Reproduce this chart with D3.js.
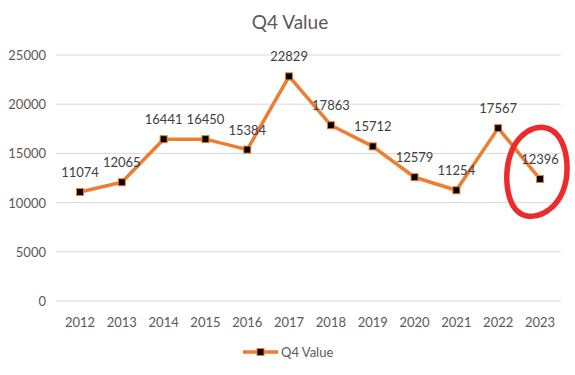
<!DOCTYPE html>
<html lang="en">
<head>
  <meta charset="UTF-8">
  <title>Q4 Value</title>
  <script src="https://d3js.org/d3.v7.min.js"></script>
  <style>
    body { margin: 0; background: #fff; }
    text { font-family: Lato, "Open Sans", sans-serif; fill: #595959; }
  </style>
</head>
<body>
  <svg width="575" height="375"></svg>

  <script>
    const years = ["2012", "2013", "2014", "2015", "2016", "2017", "2018", "2019", "2020", "2021", "2022", "2023"];
    const q4Values = [11074, 12065, 16441, 16450, 15384, 22829, 17863, 15712, 12579, 11254, 17567, 12396];
    const yTicks = [0, 5000, 10000, 15000, 20000, 25000];
    const seriesName = "Q4 Value";

    const svg = d3.select("svg");
    const orange = "#ED7D31";

    const x = d3.scalePoint().domain(years).range([80, 540]);
    const y = d3.scaleLinear().domain([0, 25000]).range([301, 55]);

    // title
    svg.append("text")
      .attr("x", 290).attr("y", 29)
      .attr("text-anchor", "middle")
      .style("font-size", "19px")
      .text("Q4 Value");

    // gridlines
    svg.selectAll("line.grid")
      .data(yTicks)
      .enter().append("line")
      .attr("class", "grid")
      .attr("x1", 56).attr("x2", 561)
      .attr("y1", d => y(d)).attr("y2", d => y(d))
      .attr("stroke", "#d9d9d9")
      .attr("stroke-width", 1);

    // y axis labels
    svg.selectAll("text.ylab")
      .data(yTicks)
      .enter().append("text")
      .attr("class", "ylab")
      .attr("x", 46).attr("y", d => y(d) + 5)
      .attr("text-anchor", "end")
      .style("font-size", "13px")
      .text(d => d);

    // x axis labels
    svg.selectAll("text.xlab")
      .data(years)
      .enter().append("text")
      .attr("class", "xlab")
      .attr("x", d => x(d)).attr("y", 327)
      .attr("text-anchor", "middle")
      .style("font-size", "13px")
      .text(d => d);

    // line
    const line = d3.line()
      .x((d, i) => x(years[i]))
      .y(d => y(d));

    svg.append("path")
      .datum(q4Values)
      .attr("d", line)
      .attr("fill", "none")
      .attr("stroke", orange)
      .attr("stroke-width", 3.5)
      .attr("stroke-linejoin", "round");

    // markers
    svg.selectAll("rect.marker")
      .data(q4Values)
      .enter().append("rect")
      .attr("class", "marker")
      .attr("x", (d, i) => x(years[i]) - 3.5)
      .attr("y", d => y(d) - 3.5)
      .attr("width", 7).attr("height", 7)
      .attr("fill", "#000")
      .attr("stroke", orange)
      .attr("stroke-width", 1);

    // data labels
    svg.selectAll("text.dlab")
      .data(q4Values)
      .enter().append("text")
      .attr("class", "dlab")
      .attr("x", (d, i) => x(years[i]))
      .attr("y", d => y(d) - 15)
      .attr("text-anchor", "middle")
      .style("font-size", "13px")
      .style("fill", "#404040")
      .text(d => d);

    // hand-drawn red circle round the last point (tilted a little)
    const cx = x("2023") - 3, cy = y(12396) - 7;
    const tilt = 0.22;
    const ring = d3.range(0, 1.08, 0.02).map(t => {
      const a = -Math.PI / 2 + t * 2 * Math.PI;
      const rx = 30 + 1.5 * Math.sin(a * 2);
      const ry = 45 - 1.5 * Math.cos(a);
      const px = rx * Math.cos(a), py = ry * Math.sin(a);
      return [cx + px * Math.cos(tilt) - py * Math.sin(tilt),
              cy + px * Math.sin(tilt) + py * Math.cos(tilt)];
    });
    svg.append("path")
      .attr("d", d3.line().curve(d3.curveCatmullRom)(ring))
      .attr("fill", "none")
      .attr("stroke", "#ee2b2b")
      .attr("stroke-width", 5.5)
      .attr("stroke-linecap", "round");

    // legend
    const lg = svg.append("g").attr("transform", "translate(243,352)");
    lg.append("line")
      .attr("x1", 0).attr("x2", 35)
      .attr("stroke", orange).attr("stroke-width", 3.5);
    lg.append("rect")
      .attr("x", 14).attr("y", -3.5).attr("width", 7).attr("height", 7)
      .attr("fill", "#000").attr("stroke", orange);
    lg.append("text")
      .attr("x", 38).attr("y", 5)
      .style("font-size", "13px")
      .text(seriesName);
  </script>
</body>
</html>
